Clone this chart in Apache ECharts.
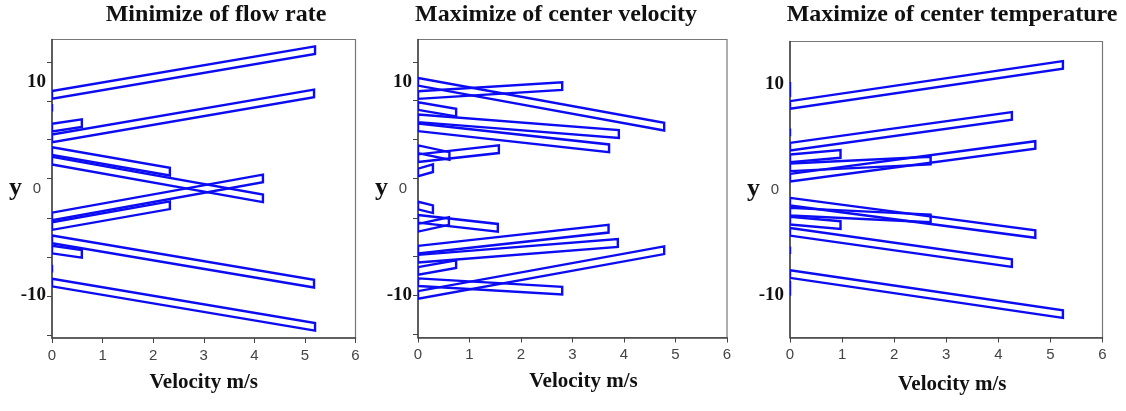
<!DOCTYPE html>
<html>
<head>
<meta charset="utf-8">
<script src="https://cdn.jsdelivr.net/npm/echarts@6/dist/echarts.min.js"></script>
<style>html,body{margin:0;padding:0;background:#fff}#c{width:1126px;height:411px}</style>
</head>
<body>
<div id="c"></div>
<script>
// ---------- data ----------
const panelTitles = ['Minimize of flow rate', 'Maximize of center velocity', 'Maximize of center temperature'];
const xAxisTitle = 'Velocity m/s';
const yAxisTitle = 'y';
const xTicks = [0, 1, 2, 3, 4, 5, 6];
const yLabelValues = [-10, 0, 10];
const yTickValues = [11.9, 8.25, 4.6, 0.95, -2.75, -6.4, -10.05, -13.7];

// each bar: velocity at tip, y at root (x = 0), y at tip
const flowVel   = [5.2, 5.18, 0.59, 2.33, 4.17, 4.17, 2.33, 0.59, 5.18, 5.2, 0, 0];
const flowRootY = [8.81, 4.73, 5.73, 3.53, 2.63, -2.6, -3.5, -5.7, -4.75, -8.8, 7.6, -7.5];
const flowTipY  = [13.0, 8.94, 6.15, 1.6, -0.9, 0.97, -1.55, -6.1, -8.9, -12.95, 7.6, -7.5];

const velVel   = [4.78, 2.8, 0.74, 3.9, 3.71, 1.57, 0.61, 0.29, 4.78, 2.8, 0.74, 3.88, 3.7, 1.55, 0.6, 0.29];
const velRootY = [10.03, 8.78, 7.75, 6.6, 5.75, 2.85, 3.69, 1.5, -10.0, -8.8, -7.75, -6.6, -5.75, -2.85, -3.69, -1.6];
const velTipY  = [5.81, 9.62, 7.13, 5.12, 3.78, 3.69, 3.06, 1.91, -5.8, -9.6, -7.1, -5.12, -3.78, -3.69, -3.06, -1.95];

const tempVel   = [5.24, 4.26, 0.97, 2.7, 4.71, 0, 0, 0, 5.24, 4.26, 0.97, 2.7, 4.71, 0, 0, 0];
const tempRootY = [8.0, 4.05, 2.95, 2.1, 1.12, 9.8, 9.1, 5.4, -8.0, -4.0, -2.95, -2.1, -1.15, -5.75, -9.0, -9.7];
const tempTipY  = [11.79, 6.96, 3.36, 2.73, 4.21, 9.8, 9.1, 5.4, -11.79, -6.96, -3.36, -2.73, -4.21, -5.75, -9.0, -9.7];

// ---------- chart ----------
const BLUE = '#0c0cf4';
const HALF = 0.36;
const serif = 'Liberation Serif';
const sans = 'Liberation Sans';

const panels = [
  {vel: flowVel, root: flowRootY, tip: flowTipY, grid: {left: 52, top: 39.5, width: 303.5, height: 298.5}, title: 211, namePad: 0, ticks: true},
  {vel: velVel, root: velRootY, tip: velTipY, grid: {left: 418, top: 39.5, width: 309, height: 298}, title: 551, namePad: 22, ticks: true},
  {vel: tempVel, root: tempRootY, tip: tempTipY, grid: {left: 790, top: 41.5, width: 312.5, height: 296}, title: 947, namePad: 12, ticks: false}
];

const option = {
  animation: false,
  backgroundColor: '#fff',
  title: panels.map((p, i) => ({
    text: panelTitles[i], left: p.title, top: -2, textAlign: 'center',
    textStyle: {fontFamily: serif, fontWeight: 'bold', fontSize: 24, color: '#111'}
  })),
  grid: panels.map(p => Object.assign({show: true, borderColor: '#777', borderWidth: 1.2, backgroundColor: 'transparent'}, p.grid)),
  xAxis: panels.map((p, i) => ({
    gridIndex: i, type: 'value', min: xTicks[0], max: xTicks[xTicks.length - 1], interval: 1,
    name: xAxisTitle, nameLocation: 'middle', nameGap: i === 2 ? 37 : 34, nameMoveOverlap: false,
    nameTextStyle: {fontFamily: serif, fontWeight: 'bold', fontSize: 21, color: '#111', padding: [0, 0, 0, p.namePad]},
    axisLine: {show: true, onZero: false, lineStyle: {color: '#444', width: 1.5}},
    axisTick: {show: true, length: 5, lineStyle: {color: '#444'}},
    axisLabel: {fontFamily: sans, fontSize: 15, color: '#444', margin: 10},
    splitLine: {show: false}
  })),
  yAxis: panels.map((p, i) => ({
    gridIndex: i, type: 'value', min: -14, max: 14,
    name: yAxisTitle, nameLocation: 'middle', nameRotate: 0, nameGap: 30, nameMoveOverlap: false,
    nameTextStyle: {fontFamily: serif, fontWeight: 'bold', fontSize: 26, color: '#111', padding: [0, 0, 18, 0]},
    axisLine: {show: true, onZero: false, lineStyle: {color: '#444', width: 1.5}},
    axisTick: {show: p.ticks, length: 5, customValues: yTickValues, lineStyle: {color: '#444'}},
    axisLabel: {
      customValues: yLabelValues, margin: 6,
      formatter: v => (Math.round(v) === 0 ? '{s|0}' : '{b|' + Math.round(v) + '}'),
      rich: {
        s: {fontFamily: sans, fontSize: 15, color: '#444', padding: [0, 5, 0, 0]},
        b: {fontFamily: serif, fontWeight: 'bold', fontSize: 19, color: '#111'}
      }
    },
    splitLine: {show: false}
  })),
  series: panels.map((p, i) => ({
    type: 'custom', xAxisIndex: i, yAxisIndex: i, clip: true,
    data: p.vel.map((v, k) => [v, p.root[k], p.tip[k]]),
    renderItem: (params, api) => {
      const v = api.value(0), a = api.value(1), b = api.value(2);
      const pts = [api.coord([0, a + HALF]), api.coord([v, b + HALF]), api.coord([v, b - HALF]), api.coord([0, a - HALF])];
      return {type: 'polygon', shape: {points: pts}, style: {fill: 'none', stroke: BLUE, lineWidth: 2.4, lineJoin: 'miter'}};
    }
  }))
};

const chart = echarts.init(document.getElementById('c'), null, {renderer: 'canvas'});
chart.setOption(option);
</script>
</body>
</html>
